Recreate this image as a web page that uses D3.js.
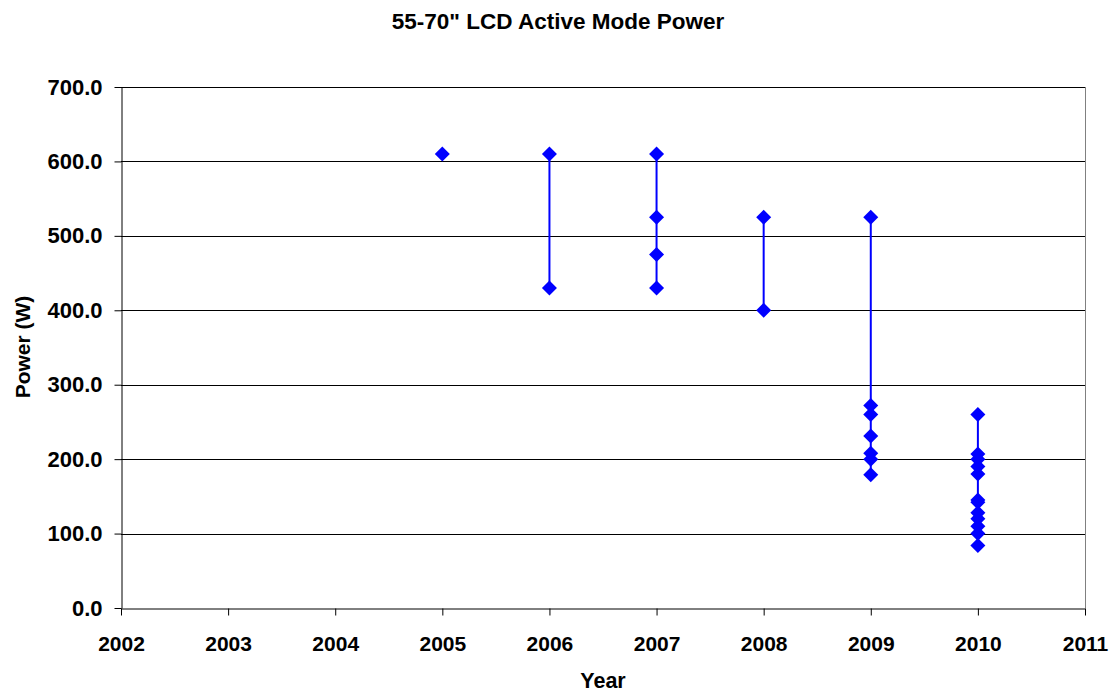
<!DOCTYPE html>
<html>
<head>
<meta charset="utf-8">
<script src="https://cdn.jsdelivr.net/npm/d3@7"></script>
<style>
  body { margin: 0; background: #fff; }
  text { font-family: "Liberation Sans", Arial, sans-serif; font-weight: bold; fill: #000; }
</style>
</head>
<body>
<div id="chart"></div>
<script>
// values, one list per model year
var years = [2005, 2006, 2007, 2008, 2009, 2010];
var watts2005 = [610];
var watts2006 = [610, 430];
var watts2007 = [610, 525, 475, 430];
var watts2008 = [525, 400];
var watts2009 = [525, 272, 260, 231, 208, 200, 179];
var watts2010 = [260, 207, 200, 190, 180, 145, 142, 128, 120, 110, 100, 84];
var yearTicks = [2002, 2003, 2004, 2005, 2006, 2007, 2008, 2009, 2010, 2011];
var powerTicks = [0, 100, 200, 300, 400, 500, 600, 700];

var byYear = [watts2005, watts2006, watts2007, watts2008, watts2009, watts2010];

var width = 1115, height = 693;
// note: "top" is taken by window.top, so use other names
var plotL = 121, plotR = 1085, plotT = 87, plotB = 608;

var svg = d3.select("#chart").append("svg")
    .attr("width", width).attr("height", height);

var x = d3.scaleLinear().domain([2002, 2011]).range([plotL, plotR]);
var y = d3.scaleLinear().domain([0, 700]).range([plotB, plotT]);

// gridlines
svg.append("g").selectAll("line")
  .data(powerTicks.filter(function(d) { return d > 0; }))
  .enter().append("line")
    .attr("x1", plotL).attr("x2", plotR)
    .attr("y1", function(d) { return Math.round(y(d)) + 0.5; })
    .attr("y2", function(d) { return Math.round(y(d)) + 0.5; })
    .attr("stroke", "#000").attr("stroke-width", 1);

// right border of plot area
svg.append("line")
    .attr("x1", plotR + 0.5).attr("x2", plotR + 0.5).attr("y1", plotT).attr("y2", plotB)
    .attr("stroke", "#808080");

// axes
var yAxis = svg.append("g")
    .attr("transform", "translate(" + (plotL + 0.5) + ",0)")
    .call(d3.axisLeft(y).tickValues(powerTicks).tickFormat(d3.format(".1f"))
      .tickSize(7).tickSizeOuter(0).tickPadding(12));
var xAxis = svg.append("g")
    .attr("transform", "translate(0," + (plotB + 0.5) + ")")
    .call(d3.axisBottom(x).tickValues(yearTicks).tickFormat(d3.format("d"))
      .tickSize(7).tickSizeOuter(0).tickPadding(21));

[yAxis, xAxis].forEach(function(a) {
  a.select(".domain").attr("stroke", "#000");
  a.selectAll(".tick line").attr("stroke", "#000");
  a.selectAll("text").attr("font-size", 22)
    .style("font-family", "'Liberation Sans', Arial, sans-serif")
    .style("font-weight", "bold");
});
xAxis.selectAll("text").attr("font-size", 21);

// connecting lines within each year
var line = d3.line()
    .x(function(d) { return x(d.year); })
    .y(function(d) { return y(d.w); });

var series = byYear.map(function(vals, i) {
  return vals.map(function(v) { return { year: years[i], w: v }; });
});

svg.append("g").selectAll("path")
  .data(series)
  .enter().append("path")
    .attr("d", line)
    .attr("fill", "none")
    .attr("stroke", "#0000ff")
    .attr("stroke-width", 2);

// diamond markers
var pts = [].concat.apply([], series);
svg.append("g").selectAll("path")
  .data(pts)
  .enter().append("path")
    .attr("d", "M0,-7.5L7.5,0L0,7.5L-7.5,0Z")
    .attr("transform", function(d) { return "translate(" + x(d.year) + "," + y(d.w) + ")"; })
    .attr("fill", "#0000ff");

// titles
svg.append("text")
    .attr("x", 558).attr("y", 29)
    .attr("text-anchor", "middle")
    .attr("font-size", 22.5)
    .text('55-70" LCD Active Mode Power');

svg.append("text")
    .attr("x", 603).attr("y", 688)
    .attr("text-anchor", "middle")
    .attr("font-size", 21.5)
    .text("Year");

svg.append("text")
    .attr("transform", "translate(30,347) rotate(-90)")
    .attr("text-anchor", "middle")
    .attr("font-size", 21)
    .text("Power (W)");
</script>
</body>
</html>
